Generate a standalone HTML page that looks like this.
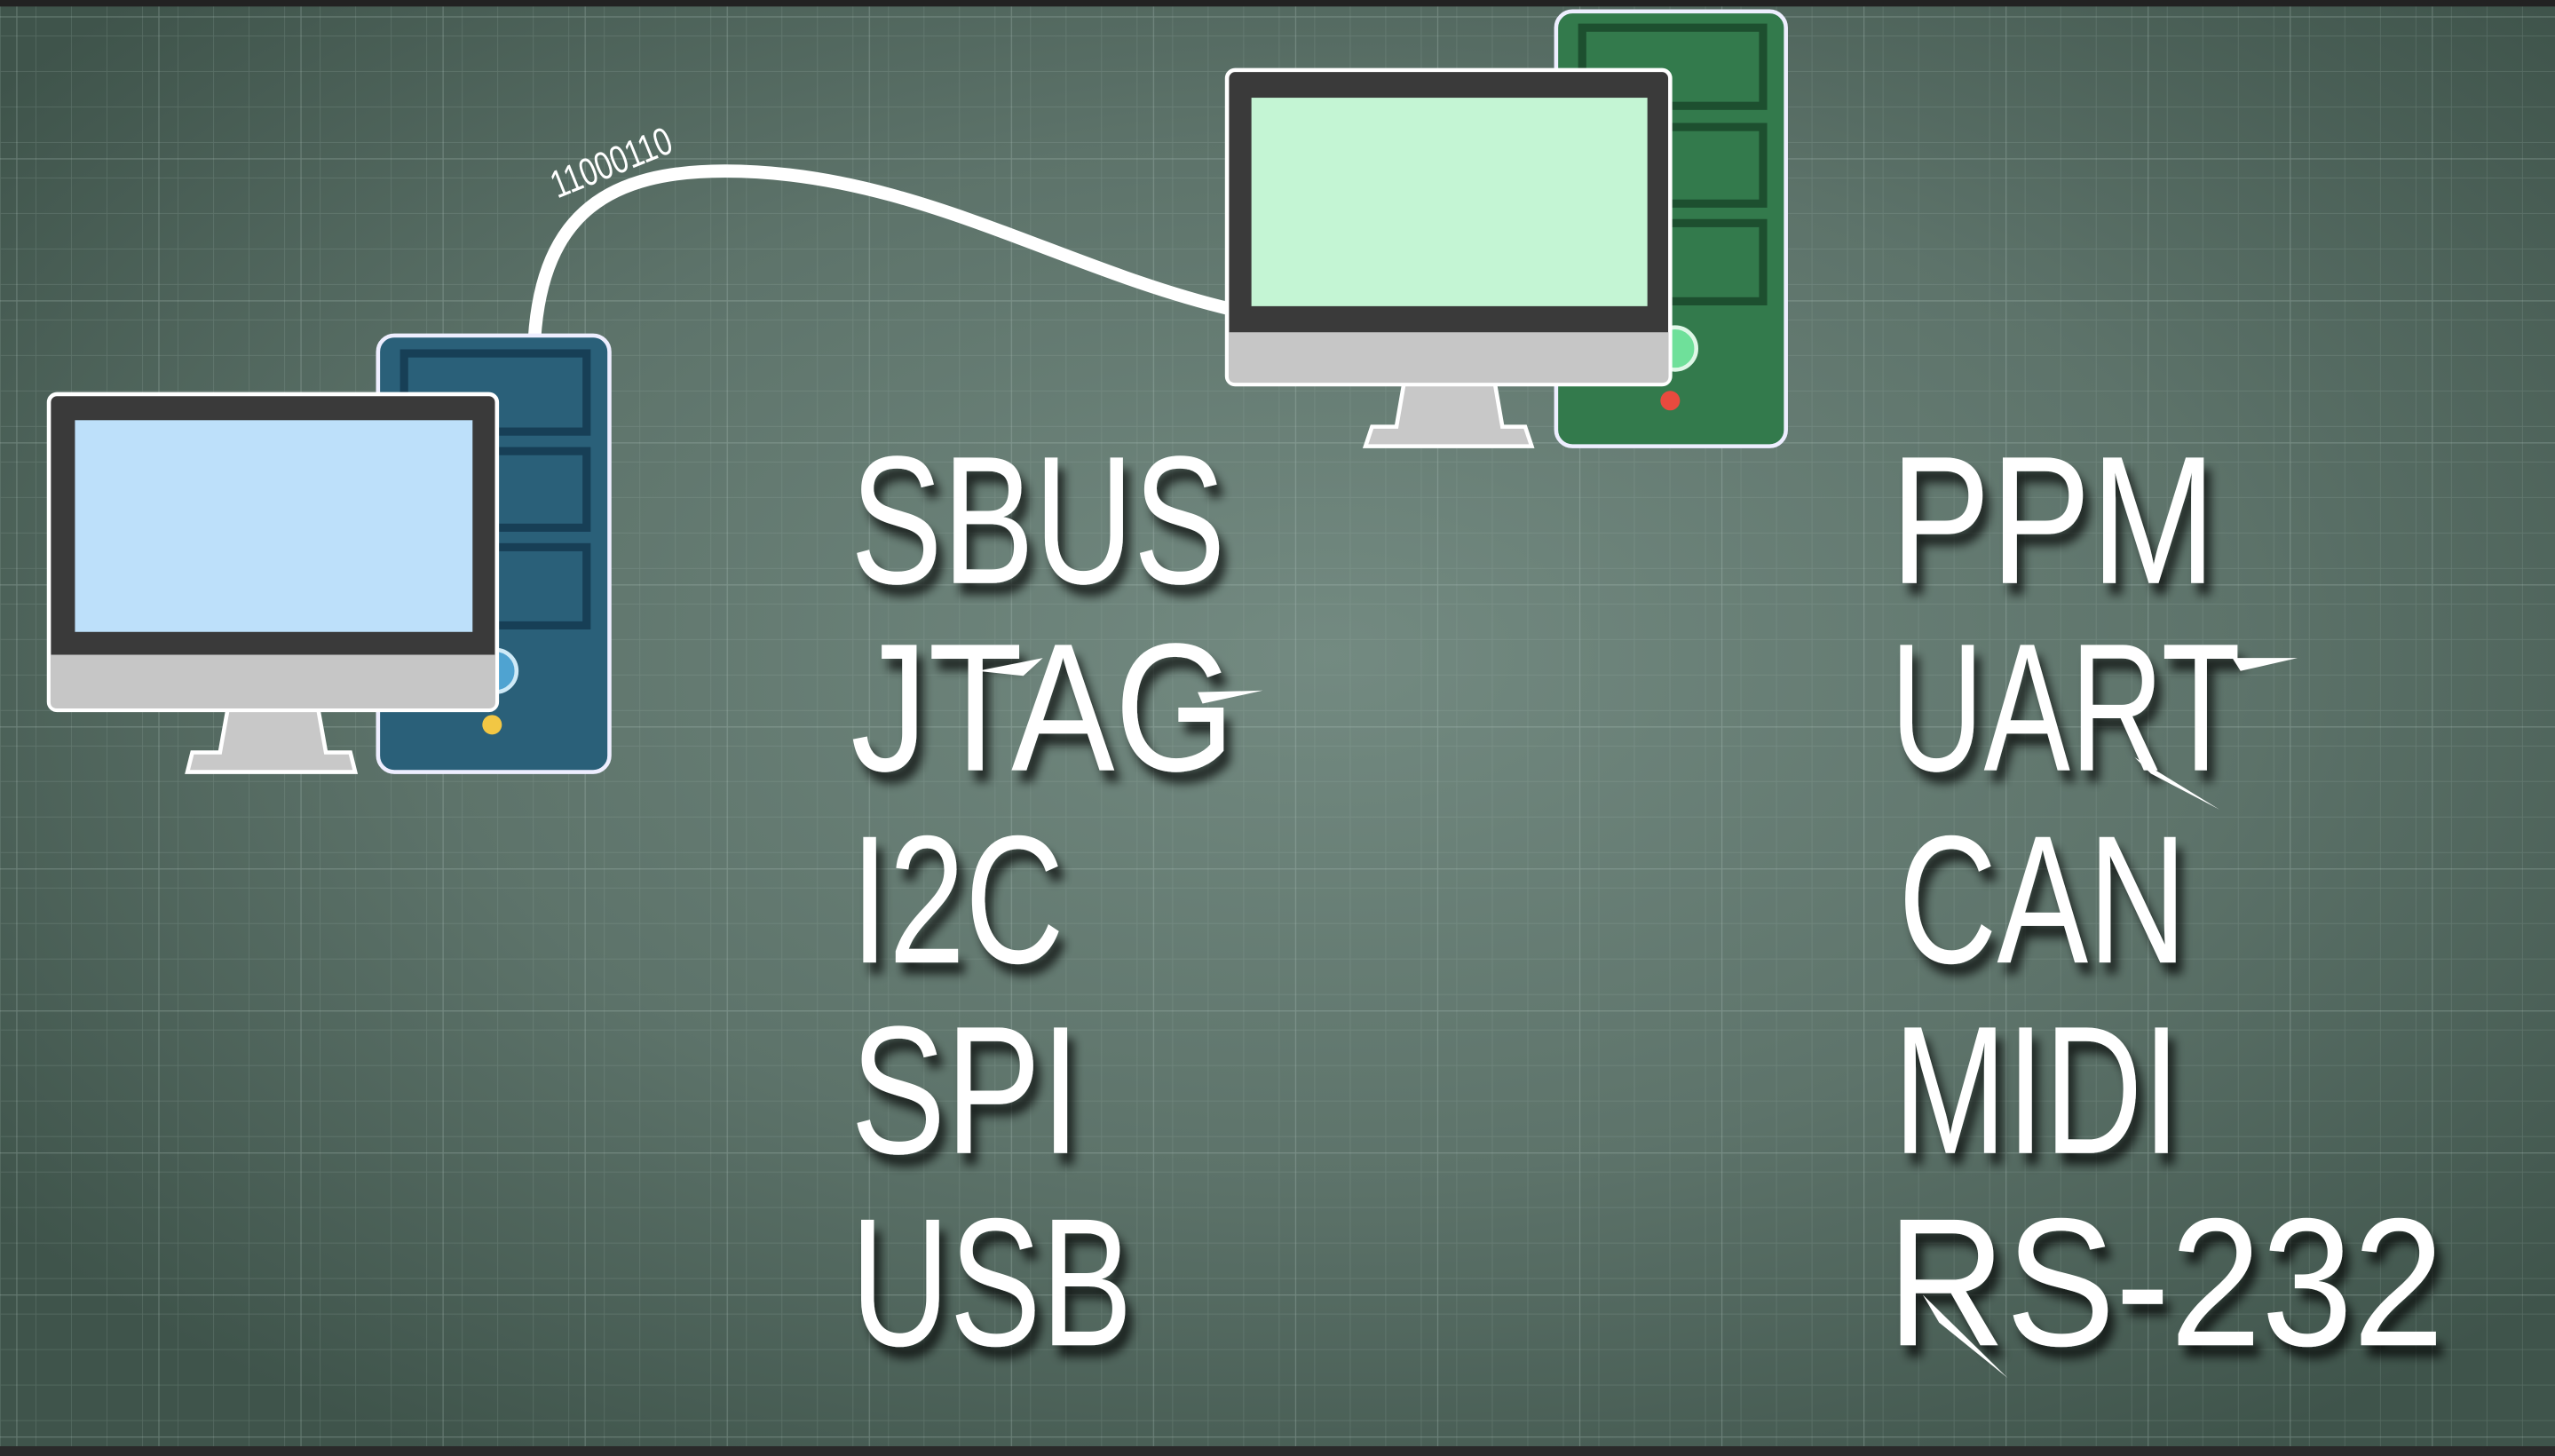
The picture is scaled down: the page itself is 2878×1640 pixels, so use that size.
<!DOCTYPE html>
<html><head><meta charset="utf-8"><style>
html,body{margin:0;padding:0;width:2878px;height:1640px;overflow:hidden;background:#3e5249}
svg{display:block}
</style></head><body>
<svg width="2878" height="1640" viewBox="0 0 1568 894" preserveAspectRatio="none" xmlns="http://www.w3.org/2000/svg">
<defs>
<radialGradient id="bg" cx="0.52" cy="0.45" r="0.65">
<stop offset="0" stop-color="#738a81"/>
<stop offset="0.55" stop-color="#5d736a"/>
<stop offset="1" stop-color="#3f544b"/>
</radialGradient>
<pattern id="minor" width="21.8" height="21.8" patternUnits="userSpaceOnUse">
<path d="M0 0V21.8M0 0H21.8" stroke="#9fb5ab" stroke-opacity="0.22" stroke-width="0.9" fill="none"/>
</pattern>
<pattern id="major" width="87.2" height="87.2" patternUnits="userSpaceOnUse" x="10" y="10">
<path d="M0 0V87.2M0 0H87.2" stroke="#b8ccc3" stroke-opacity="0.3" stroke-width="1.3" fill="none"/>
</pattern>
<filter id="sh" x="-10%" y="-10%" width="130%" height="140%">
<feGaussianBlur in="SourceAlpha" stdDeviation="3"/>
<feOffset dx="4" dy="7" result="o"/>
<feComponentTransfer><feFuncA type="linear" slope="0.7"/></feComponentTransfer>
<feMerge><feMergeNode/><feMergeNode in="SourceGraphic"/></feMerge>
</filter>
</defs>
<rect width="1568" height="894" fill="url(#bg)"/>
<rect width="1568" height="894" fill="url(#minor)"/>
<rect width="1568" height="894" fill="url(#major)"/>
<rect width="1568" height="4" fill="#222"/>
<rect y="888" width="1568" height="6" fill="#2a2a2a"/>

<!-- cable -->
<path d="M328,208 C333,130 375,105 445,105 C560,105 650,165 756,190" stroke="#fff" stroke-width="8" fill="none"/>
<text x="0" y="0" transform="translate(342,122) rotate(-22)" font-family="Liberation Sans, sans-serif" font-size="24" fill="#fff" textLength="78" lengthAdjust="spacingAndGlyphs">11000110</text>

<!-- left computer -->
<rect x="232" y="206" width="142" height="268" rx="10" fill="#2a6079" stroke="#eef" stroke-width="2.5"/>
<rect x="248" y="217" width="112" height="48" fill="none" stroke="#173f56" stroke-width="5"/>
<rect x="248" y="277" width="112" height="47" fill="none" stroke="#173f56" stroke-width="5"/>
<rect x="248" y="336" width="112" height="48" fill="none" stroke="#173f56" stroke-width="5"/>
<circle cx="304" cy="412" r="13" fill="#4fa3d1" stroke="#cfeaf7" stroke-width="2.5"/>
<circle cx="302" cy="445" r="6" fill="#f2c744"/>
<path d="M140,434 L195,434 L200,462 L215,462 L218,474 L115,474 L118,462 L135,462 Z" fill="#c8c8c8" stroke="#fff" stroke-width="2.5"/>
<rect x="30" y="242" width="275" height="194" rx="5" fill="#3a3a3a" stroke="#fff" stroke-width="2.5"/>
<rect x="46" y="258" width="244" height="130" fill="#bde0fa"/>
<path d="M31,402 H304 V431 Q304,435 300,435 H35 Q31,435 31,431 Z" fill="#c6c6c6"/>

<!-- right computer -->
<rect x="955" y="7" width="141" height="267" rx="10" fill="#337a4c" stroke="#eef" stroke-width="2.5"/>
<rect x="971" y="17" width="111" height="48" fill="none" stroke="#1d4f2f" stroke-width="5"/>
<rect x="971" y="78" width="111" height="47" fill="none" stroke="#1d4f2f" stroke-width="5"/>
<rect x="971" y="137" width="111" height="48" fill="none" stroke="#1d4f2f" stroke-width="5"/>
<circle cx="1028" cy="214" r="13" fill="#6fe09a" stroke="#dff7e7" stroke-width="2.5"/>
<circle cx="1025" cy="246" r="6" fill="#e84a3e"/>
<path d="M862,233 L917,233 L922,262 L936,262 L940,274 L838,274 L842,262 L857,262 Z" fill="#c8c8c8" stroke="#fff" stroke-width="2.5"/>
<rect x="753" y="43" width="272" height="193" rx="5" fill="#3a3a3a" stroke="#fff" stroke-width="2.5"/>
<rect x="768" y="60" width="243" height="128" fill="#c4f5d4"/>
<path d="M754,204 H1024 V231 Q1024,235 1020,235 H758 Q754,235 754,231 Z" fill="#c6c6c6"/>

<!-- labels -->
<g font-family="Liberation Sans, DejaVu Sans, sans-serif" font-size="112" fill="#fff" filter="url(#sh)" lengthAdjust="spacingAndGlyphs">
<text x="522" y="358" textLength="230" lengthAdjust="spacingAndGlyphs">SBUS</text>
<text x="522" y="473" textLength="236" lengthAdjust="spacingAndGlyphs">JTAG</text>
<text x="522" y="591" textLength="131" lengthAdjust="spacingAndGlyphs">I2C</text>
<text x="522" y="708" textLength="141" lengthAdjust="spacingAndGlyphs">SPI</text>
<text x="522" y="826" textLength="173" lengthAdjust="spacingAndGlyphs">USB</text>
<text x="1160" y="358" textLength="200" lengthAdjust="spacingAndGlyphs">PPM</text>
<text x="1160" y="473" textLength="215" lengthAdjust="spacingAndGlyphs">UART</text>
<text x="1165" y="591" textLength="177" lengthAdjust="spacingAndGlyphs">CAN</text>
<text x="1162" y="708" textLength="176" lengthAdjust="spacingAndGlyphs">MIDI</text>
<text x="1158" y="826" textLength="342" lengthAdjust="spacingAndGlyphs">RS-232</text>
</g>
<!-- sparks -->
<g fill="#fff">
<path d="M600,412 L640,404 L628,415 Z"/>
<path d="M735,425 L775,424 L738,432 Z"/>
<path d="M1370,404 L1410,404 L1375,412 Z"/>
<path d="M1310,465 L1362,497 L1320,475 Z"/>
<path d="M1180,795 L1232,846 L1190,812 Z"/>
</g>
</svg>
</body></html>
